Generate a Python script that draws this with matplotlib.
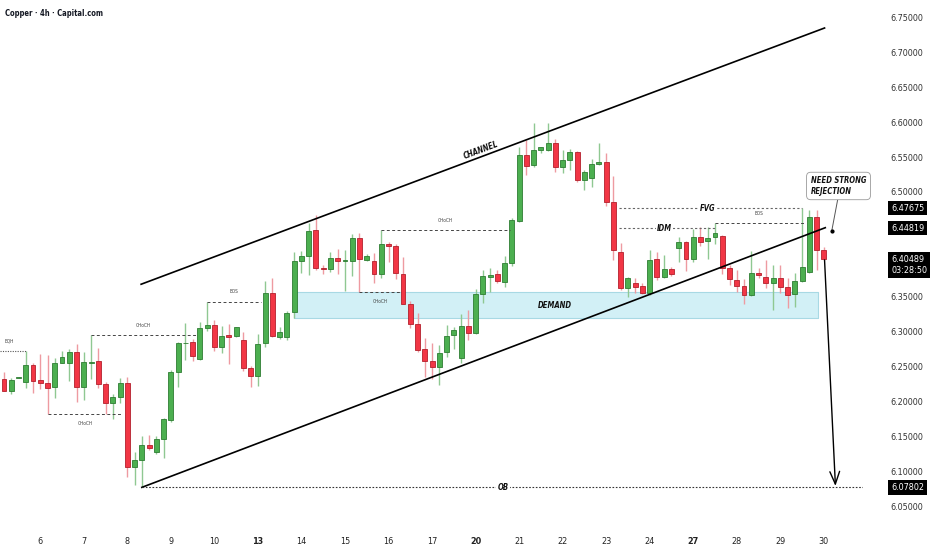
import numpy as np
import matplotlib.pyplot as plt
from matplotlib.transforms import blended_transform_factory

plt.rcParams['font.family'] = ['DejaVu Sans']
plt.rcParams['font.stretch'] = 'condensed'

# 4h copper candles (index 0 = first bar on screen)
opens = [6.2324, 6.2162, 6.2347, 6.2282, 6.2533, 6.2310, 6.2267, 6.2219, 6.2557, 6.2553,
         6.2714, 6.2219, 6.2562, 6.2590, 6.2262, 6.1982, 6.2067, 6.2276, 6.1067, 6.1167,
         6.1382, 6.1282, 6.1467, 6.1743, 6.2433, 6.2839, 6.2857, 6.2610, 6.3053, 6.3096,
         6.2782, 6.2957, 6.2943, 6.2886, 6.2482, 6.2376, 6.2839, 6.3562, 6.2933, 6.2924,
         6.3290, 6.4019, 6.4090, 6.4457, 6.3919, 6.3900, 6.4062, 6.4014, 6.4019, 6.4339,
         6.4029, 6.4014, 6.3829, 6.4253, 6.4229, 6.3829, 6.3396, 6.3114, 6.2764, 6.2590,
         6.2504, 6.2707, 6.2957, 6.2622, 6.3090, 6.2986, 6.3540, 6.3790, 6.3826, 6.3712,
         6.3982, 6.4590, 6.5529, 6.5386, 6.5600, 6.5600, 6.5696, 6.5362, 6.5457, 6.5576,
         6.5172, 6.5200, 6.5396, 6.5433, 6.4862, 6.4147, 6.3624, 6.3696, 6.3657, 6.3553,
         6.4039, 6.3790, 6.3900, 6.4196, 6.4290, 6.4046, 6.4353, 6.4304, 6.4353, 6.4371,
         6.3910, 6.3743, 6.3653, 6.3522, 6.3847, 6.3790, 6.3696, 6.3767, 6.3647, 6.3543,
         6.3733, 6.3862, 6.4639, 6.4171]
highs = [6.2424, 6.2347, 6.2364, 6.2733, 6.2562, 6.2686, 6.2676, 6.2633, 6.2729, 6.2757,
         6.2824, 6.2719, 6.2957, 6.2767, 6.2290, 6.2110, 6.2339, 6.2362, 6.1290, 6.1514,
         6.1524, 6.1514, 6.1767, 6.2457, 6.2862, 6.3124, 6.2896, 6.3147, 6.3433, 6.3172,
         6.3086, 6.3114, 6.3076, 6.3000, 6.2514, 6.2967, 6.3729, 6.3776, 6.3076, 6.3300,
         6.4139, 6.4162, 6.4553, 6.4672, 6.3957, 6.4139, 6.4186, 6.4172, 6.4396, 6.4419,
         6.4110, 6.4124, 6.4457, 6.4282, 6.4253, 6.4067, 6.3443, 6.3267, 6.2910, 6.2843,
         6.2814, 6.3100, 6.3072, 6.3250, 6.3314, 6.3619, 6.3882, 6.3910, 6.3886, 6.4079,
         6.4624, 6.5639, 6.5743, 6.5990, 6.5639, 6.5982, 6.5753, 6.5607, 6.5614, 6.5586,
         6.5314, 6.5472, 6.5700, 6.5553, 6.5229, 6.4267, 6.3790, 6.3772, 6.3696, 6.4172,
         6.4143, 6.4100, 6.3922, 6.4364, 6.4300, 6.4472, 6.4504, 6.4504, 6.4553, 6.4386,
         6.3957, 6.3886, 6.3757, 6.4164, 6.3910, 6.4029, 6.3957, 6.3957, 6.3767, 6.3839,
         6.4768, 6.4739, 6.4739, 6.4210]
lows = [6.2157, 6.2110, 6.2343, 6.2196, 6.2124, 6.2186, 6.1829, 6.2062, 6.2553, 6.2304,
        6.1996, 6.2029, 6.2329, 6.2196, 6.1824, 6.1753, 6.1982, 6.0933, 6.0814, 6.0780,
        6.1314, 6.1257, 6.1204, 6.1719, 6.2219, 6.2600, 6.2590, 6.2600, 6.3019, 6.2733,
        6.2696, 6.2543, 6.2933, 6.2447, 6.2210, 6.2233, 6.2782, 6.2924, 6.2896, 6.2886,
        6.3196, 6.3847, 6.3814, 6.3886, 6.3824, 6.3862, 6.3829, 6.3590, 6.3796, 6.3576,
        6.4014, 6.3696, 6.3767, 6.4004, 6.3757, 6.3396, 6.3053, 6.2714, 6.2362, 6.2329,
        6.2243, 6.2643, 6.2757, 6.2553, 6.2886, 6.2976, 6.3419, 6.3576, 6.3700, 6.3636,
        6.3943, 6.4576, 6.5243, 6.5362, 6.5562, 6.5590, 6.5290, 6.5267, 6.5314, 6.5143,
        6.5029, 6.5072, 6.5386, 6.4796, 6.4029, 6.3607, 6.3504, 6.3564, 6.3543, 6.3529,
        6.3743, 6.3767, 6.3807, 6.3993, 6.3872, 6.3993, 6.4229, 6.4039, 6.4250, 6.3829,
        6.3671, 6.3569, 6.3404, 6.3510, 6.3767, 6.3624, 6.3314, 6.3562, 6.3339, 6.3362,
        6.3719, 6.3847, 6.3886, 6.4029]
closes = [6.2162, 6.2314, 6.2362, 6.2529, 6.2304, 6.2267, 6.2196, 6.2557, 6.2647, 6.2714,
          6.2219, 6.2567, 6.2576, 6.2253, 6.1982, 6.2067, 6.2267, 6.1067, 6.1167, 6.1386,
          6.1339, 6.1467, 6.1757, 6.2433, 6.2839, 6.2847, 6.2657, 6.3057, 6.3100, 6.2782,
          6.2947, 6.2933, 6.3067, 6.2482, 6.2376, 6.2829, 6.3562, 6.2943, 6.2996, 6.3276,
          6.4014, 6.4090, 6.4443, 6.3914, 6.3900, 6.4062, 6.4019, 6.4022, 6.4339, 6.4039,
          6.4086, 6.3829, 6.4253, 6.4233, 6.3839, 6.3400, 6.3114, 6.2743, 6.2590, 6.2504,
          6.2704, 6.2943, 6.3029, 6.3090, 6.2981, 6.3540, 6.3807, 6.3814, 6.3733, 6.3982,
          6.4600, 6.5529, 6.5372, 6.5600, 6.5636, 6.5696, 6.5362, 6.5457, 6.5576, 6.5172,
          6.5282, 6.5400, 6.5433, 6.4862, 6.4167, 6.3624, 6.3767, 6.3643, 6.3553, 6.4029,
          6.3786, 6.3896, 6.3829, 6.4290, 6.4046, 6.4353, 6.4290, 6.4343, 6.4414, 6.3910,
          6.3753, 6.3657, 6.3522, 6.3847, 6.3814, 6.3696, 6.3767, 6.3647, 6.3529, 6.3733,
          6.3924, 6.4639, 6.4171, 6.40489]

day_pos = [5, 11, 17, 23, 29, 35, 41, 47, 53, 59, 65, 71, 77, 83, 89, 95, 101, 107, 113]
day_labels = ['6', '7', '8', '9', '10', '13', '14', '15', '16', '17', '20', '21', '22',
              '23', '24', '27', '28', '29', '30']
week_starts = ['13', '20', '27']
price_ticks = [6.05, 6.10, 6.15, 6.20, 6.25, 6.30, 6.35, 6.50, 6.55, 6.60, 6.65, 6.70, 6.75]

fvg_level = 6.47675
idm_level = 6.44819
ob_level = 6.07802
last_price = 6.40489
countdown = '03:28:50'

# market structure marks: label, start bar, end bar, price, label above(+1)/below(-1)
struct_labels = ['CHoCH', 'CHoCH', 'BOS', 'CHoCH', 'CHoCH', 'BOS']
struct_start = [6, 12, 28, 49, 52, 98]
struct_end = [16.3, 26.4, 35.4, 54.7, 69.7, 110.2]
struct_price = [6.1829, 6.2957, 6.3433, 6.3576, 6.4457, 6.4553]
struct_side = [-1, 1, 1, -1, 1, 1]

# channel and zone
upper_chan_x = [18.9, 113.1]
upper_chan_y = [6.3682, 6.7343]
lower_chan_x = [19, 113.2]
lower_chan_y = [ob_level, 6.449]
demand_x = [40, 112.15]
demand_y = [6.3193, 6.3571]

fig = plt.figure(figsize=(9.32, 5.5), dpi=100)
ax = fig.add_axes([0, 23 / 550, 863 / 932, 527 / 550])

o = np.array(opens)
h = np.array(highs)
l = np.array(lows)
c = np.array(closes)
x = np.arange(len(o))
up = c >= o

body_col = np.where(up, '#4caf50', '#f23645')
edge_col = np.where(up, '#2e7d32', '#b3202c')
wick_col = np.where(up, '#8fc892', '#ee9aa1')

ax.vlines(x, l, h, colors=wick_col, lw=1.0, zorder=2)
ax.bar(x, np.maximum(np.abs(c - o), 0.0008), bottom=np.minimum(o, c), width=0.68,
       color=body_col, edgecolor=edge_col, linewidth=0.6, zorder=3)

# demand zone
ax.fill_between(demand_x, demand_y[0], demand_y[1], color='#d2f0f6', ec='#a8d9e4',
                lw=0.8, zorder=1)
ax.text(76, np.mean(demand_y), 'DEMAND', fontsize=5.5, fontweight='bold', style='italic',
        ha='center', va='center', color='#111111', zorder=5)

# channel
ax.plot(upper_chan_x, upper_chan_y, color='black', lw=1.2, zorder=4)
ax.plot(lower_chan_x, lower_chan_y, color='black', lw=1.2, zorder=4)
ax.text(65.7, 6.5600, 'CHANNEL', rotation=20.6, rotation_mode='anchor', fontsize=5.5,
        fontweight='bold', style='italic', ha='center', va='center', color='#111111')

# structure lines
for lbl, x0, x1, p, side in zip(struct_labels, struct_start, struct_end, struct_price, struct_side):
    ax.plot([x0, x1], [p, p], ls=(0, (3, 2.5)), color='#444444', lw=0.7, zorder=4)
    ax.annotate(lbl, ((x0 + x1) / 2, p), xytext=(0, 7 * side), textcoords='offset points',
                ha='center', va='center', fontsize=3.5, color='#444444')

# equal highs
ax.plot([-0.6, 3], [6.2733, 6.2733], ls=(0, (1, 1.2)), color='#555555', lw=0.8, zorder=4)
ax.text(0.8, 6.2871, 'EQH', fontsize=3.5, ha='center', va='center', color='#444444')

# FVG / IDM levels
ax.plot([84.8, 110], [fvg_level, fvg_level], ls=(0, (2, 2)), color='#666666', lw=0.8, zorder=4)
ax.text(97, fvg_level, 'FVG', fontsize=5.5, fontweight='bold', style='italic', ha='center',
        va='center', color='#111111', zorder=5,
        bbox=dict(boxstyle='square,pad=0.15', fc='white', ec='none'))
ax.plot([84.8, 98], [idm_level, idm_level], ls=(0, (2, 2)), color='#666666', lw=0.8, zorder=4)
ax.text(91, idm_level, 'IDM', fontsize=5.5, fontweight='bold', style='italic', ha='center',
        va='center', color='#111111', zorder=5,
        bbox=dict(boxstyle='square,pad=0.15', fc='white', ec='none'))

# order block target
ax.plot([19, 118.7], [ob_level, ob_level], ls=(0, (1.5, 1.5)), color='#333333', lw=0.8, zorder=4)
ax.text(68.8, ob_level, 'OB', fontsize=5.5, fontweight='bold', style='italic', ha='center',
        va='center', color='#111111', zorder=5,
        bbox=dict(boxstyle='square,pad=0.2', fc='white', ec='none'))
ax.annotate('', xy=(114.6, ob_level + 0.002), xytext=(113.1, 6.4029),
            arrowprops=dict(arrowstyle='->,head_length=0.9,head_width=0.35',
                            color='black', lw=1.0, shrinkA=0, shrinkB=0), zorder=5)

# callout
ax.text(111.2, 6.5086, 'NEED STRONG\nREJECTION', fontsize=5.5, fontweight='bold',
        style='italic', ha='left', va='center', color='#111111', linespacing=1.15,
        bbox=dict(boxstyle='round,pad=0.55', fc='white', ec='#9a9a9a', lw=0.6),
        clip_on=False, zorder=6)
ax.plot([114.9, 114.1], [6.4886, 6.4448], color='#555555', lw=0.7, zorder=5, clip_on=False)
ax.plot([114.1], [6.4448], 'o', ms=2, color='black', zorder=6)

# axes styling
ax.set_xlim(-0.55, 118.4)
ax.set_ylim(6.0214, 6.7743)
for s in ax.spines.values():
    s.set_visible(False)
ax.set_facecolor('white')

ax.set_xticks(day_pos)
ax.set_xticklabels(day_labels)
ax.tick_params(axis='x', length=0, pad=7, labelsize=6.5, labelcolor='#222222')
for t in ax.get_xticklabels():
    if t.get_text() in week_starts:
        t.set_fontweight('bold')

ax.yaxis.tick_right()
ax.set_yticks(price_ticks)
ax.set_yticklabels([f'{p:.5f}' for p in price_ticks])
ax.tick_params(axis='y', length=0, pad=20, labelsize=6.5, labelcolor='#333333')

trans = blended_transform_factory(ax.transAxes, ax.transData)
lab_x = 1 + 28 / 863
for p in [fvg_level, idm_level, ob_level]:
    ax.text(lab_x, p, f'{p:.5f}', transform=trans, ha='left', va='center', fontsize=6.5,
            color='white', clip_on=False,
            bbox=dict(boxstyle='square,pad=0.3', fc='black', ec='none'))
ax.text(lab_x, last_price - 0.009, f'{last_price:.5f}\n{countdown}', transform=trans,
        ha='left', va='center', fontsize=6.5, color='white', clip_on=False, linespacing=1.35,
        bbox=dict(boxstyle='square,pad=0.3', fc='black', ec='none'))

fig.text(5 / 932, 1 - 13 / 550, 'Copper · 4h · Capital.com', fontsize=5.5,
         fontweight='bold', color='#131722', va='center', ha='left')

fig.savefig('out.png', dpi=100, facecolor='white')
